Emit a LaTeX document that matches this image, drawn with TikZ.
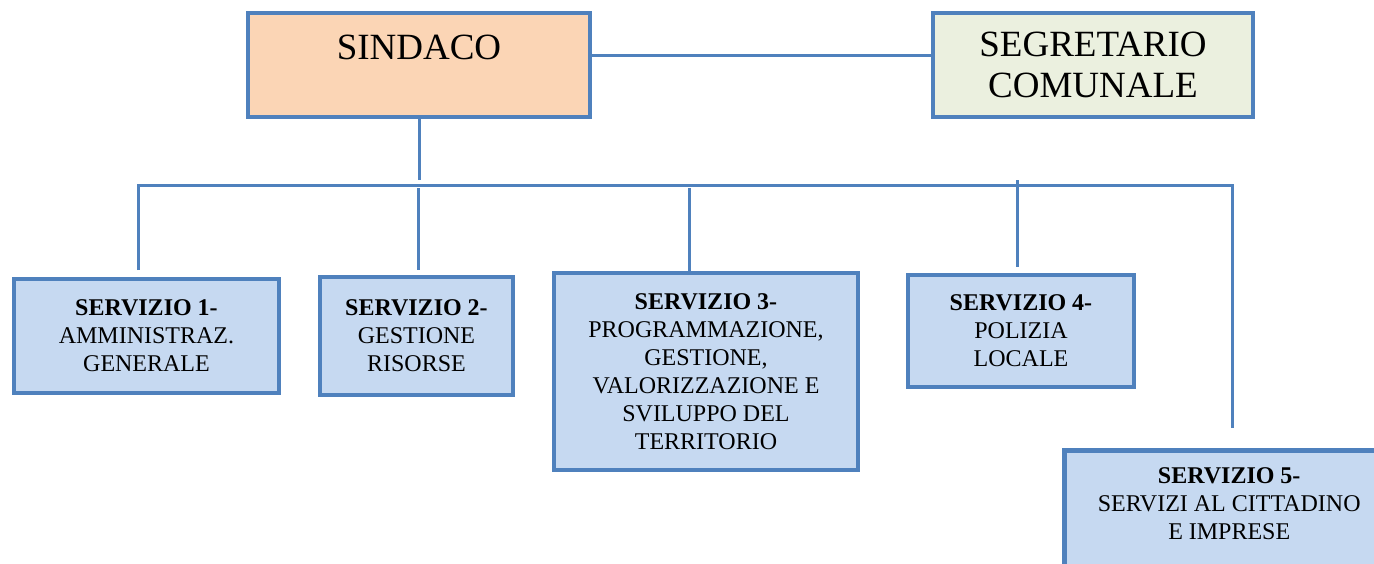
\documentclass[tikz,border=0pt]{standalone}
\usepackage{fontspec}
\setmainfont{Liberation Serif}
\usepackage{tikz}
\usetikzlibrary{positioning}
\definecolor{officeblue}{HTML}{4F81BD}
\definecolor{peach}{HTML}{FBD5B5}
\definecolor{palegreen}{HTML}{EBF0DF}
\definecolor{paleblue}{HTML}{C6D9F1}
\begin{document}
\begin{tikzpicture}[x=1pt,y=-1pt,
    topbox/.style={draw=officeblue,line width=4.5pt,inner sep=0pt,align=center,
      font=\fontsize{37}{41}\selectfont},
    unit/.style={draw=officeblue,fill=paleblue,line width=4.5pt,inner sep=0pt,align=center,
      font=\fontsize{24}{28}\selectfont},
    link/.style={draw=officeblue,line width=3pt}]
   \useasboundingbox (0,0) rectangle (1374,563);
   \node[topbox,fill=peach,minimum width=342pt,minimum height=104pt] (sindaco) at (419,65)
      {SINDACO\\[-6pt]\phantom{C}};
   \node[topbox,fill=palegreen,minimum width=320pt,minimum height=104pt] (segretario) at (1093,65)
      {SEGRETARIO\\COMUNALE};
   \node[unit,minimum width=265pt,minimum height=114pt] (s1) at (146.5,336)
      {\textbf{SERVIZIO 1-}\\AMMINISTRAZ.\\GENERALE};
   \node[unit,minimum width=193pt,minimum height=118pt] (s2) at (416.5,336)
      {\textbf{SERVIZIO 2-}\\GESTIONE\\RISORSE};
   \node[unit,minimum width=304pt,minimum height=197pt] (s3) at (706,371.5)
      {\textbf{SERVIZIO 3-}\\PROGRAMMAZIONE,\\GESTIONE,\\VALORIZZAZIONE E\\SVILUPPO DEL\\TERRITORIO};
   \node[unit,minimum width=226pt,minimum height=112pt] (s4) at (1021,331)
      {\textbf{SERVIZIO 4-}\\POLIZIA\\LOCALE};
   \node[unit,anchor=north west,minimum width=330pt,minimum height=122pt] (s5) at (1062,448)
      {\textbf{SERVIZIO 5-}\\SERVIZI AL CITTADINO\\E IMPRESE\\[-12pt]\mbox{}};
   % bus
   \coordinate (trunk) at (419,180);
   \coordinate (busL) at (138,185);
   \coordinate (busR) at (1232,185);
   \coordinate (d1) at (138,270);
   \coordinate (d2a) at (418,188);
   \coordinate (d2) at (418,270);
   \coordinate (d3a) at (689,188);
   \coordinate (d4a) at (1017,180);
   \coordinate (d4) at (1017,267);
   \coordinate (d5) at (1232,428);
    \path[link]
    ([yshift=10pt]sindaco.east) edge ([yshift=10pt]segretario.west)
    (sindaco.south) edge (trunk)
    (d2a) edge (d2)
    (d3a) edge (d3a |- s3.north)
    (d4a) edge (d4);
   \draw[link] (d1) -- (busL) -- (busR) -- (d5);
\end{tikzpicture}
\end{document}
